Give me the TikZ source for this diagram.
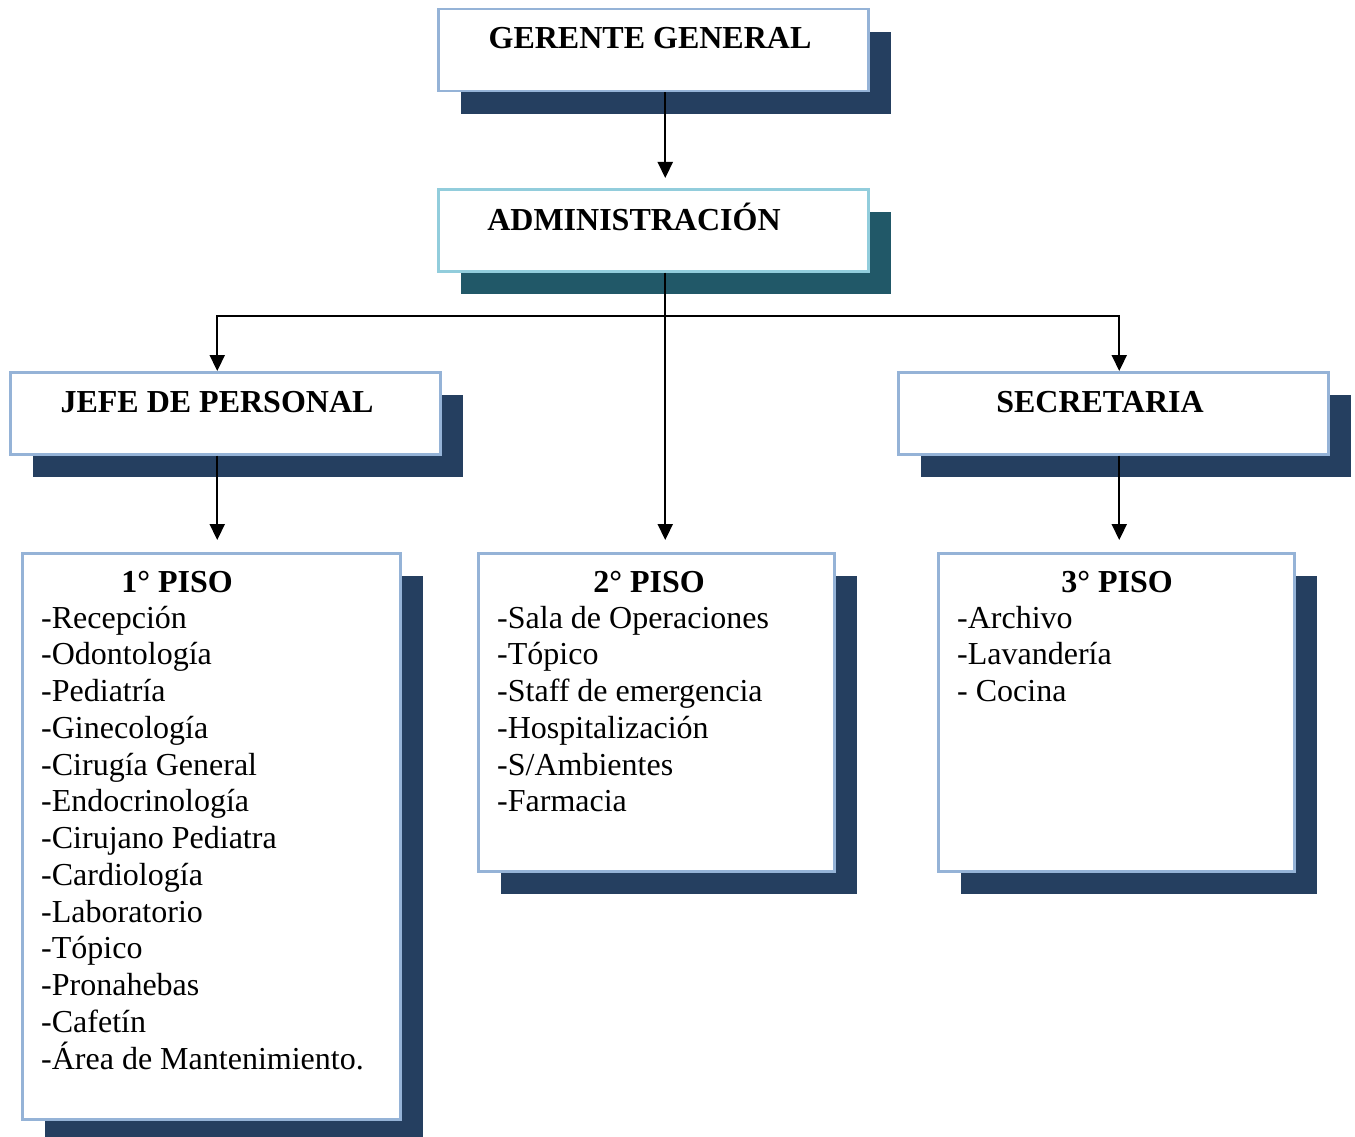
\documentclass[tikz,border=0pt]{standalone}
\usepackage{fontspec}
\setmainfont{Liberation Serif}
\usetikzlibrary{arrows.meta,shadows}
\definecolor{navyshadow}{HTML}{253F60}
\definecolor{tealshadow}{HTML}{215868}
\definecolor{blueborder}{HTML}{95B3D7}
\definecolor{cyanborder}{HTML}{92CDDC}
\tikzset{
  box/.style={draw=blueborder, line width=2.5pt, fill=white, rectangle, inner sep=0pt,
    anchor=north west,
    drop shadow={shadow xshift=23pt, shadow yshift=-23pt, fill=navyshadow, opacity=1}},
  tealbox/.style={draw=cyanborder, line width=2.5pt, fill=white, rectangle, inner sep=0pt,
    anchor=north west,
    drop shadow={shadow xshift=23pt, shadow yshift=-23pt, fill=tealshadow, opacity=1}},
  headbox/.style={minimum width=430pt, minimum height=82pt},
  head/.style={inner sep=0pt, anchor=base, font=\fontsize{32}{36.75}\selectfont\bfseries},
  items/.style={inner sep=0pt, anchor=base west, align=left, font=\fontsize{32}{36.75}\selectfont},
  arr/.style={line width=2.2pt, -{Triangle[width=15pt,length=16pt]}}
}
\begin{document}
\begin{tikzpicture}[x=1pt,y=-1pt]
\useasboundingbox (0,0) rectangle (1355,1137);
% boxes
\node[box, headbox] (ger) at (437,8) {};
\node[tealbox, headbox] (adm) at (437,188) {};
\node[box, headbox] (jefe) at (9,371) {};
\node[box, headbox] (sec) at (897,371) {};
\node[box, minimum width=378pt, minimum height=566pt] (p1) at (21,552) {};
\node[box, minimum width=356pt, minimum height=318pt] (p2) at (477,552) {};
\node[box, minimum width=356pt, minimum height=318pt] (p3) at (937,552) {};
% texts
\node[head] (tger) at (650,49) {GERENTE GENERAL};
\node[head] (tadm) at (634,230) {ADMINISTRACIÓN};
\node[head] (tjefe) at (217,412) {JEFE DE PERSONAL};
\node[head] (tsec) at (1100,412) {SECRETARIA};
\node[head] (tp1) at (177,592) {1° PISO};
\node[head] (tp2) at (649,592) {2° PISO};
\node[head] (tp3) at (1117,592) {3° PISO};
% lists: anchored at the baseline of their last line
\node[items] (l1) at (41,1069) {-Recepción\\-Odontología\\-Pediatría\\-Ginecología\\-Cirugía General\\-Endocrinología\\-Cirujano Pediatra\\-Cardiología\\-Laboratorio\\-Tópico\\-Pronahebas\\-Cafetín\\-Área de Mantenimiento.};
\node[items] (l2) at (497,811.75) {-Sala de Operaciones\\-Tópico\\-Staff de emergencia\\-Hospitalización\\-S/Ambientes\\-Farmacia};
\node[items] (l3) at (957,701.5) {-Archivo\\-Lavandería\\- Cocina};
% connectors
\draw[arr, shorten >=10pt] ([xshift=12pt]ger.south) -- ([xshift=12pt]adm.north);
\draw[arr, shorten >=12pt] ([xshift=12pt]adm.south) -- ([xshift=12pt]adm.south |- p2.north);
\coordinate (bus) at (664,316);
\draw[arr] (bus) -| ([xshift=-8pt]jefe.north);
\draw[arr] (bus) -| ([xshift=6pt]sec.north);
\draw[arr, shorten >=12pt] ([xshift=-8pt]jefe.south) -- ([xshift=-8pt]jefe.south |- p1.north);
\draw[arr, shorten >=12pt] ([xshift=6pt]sec.south) -- ([xshift=6pt]sec.south |- p3.north);
\end{tikzpicture}
\end{document}
